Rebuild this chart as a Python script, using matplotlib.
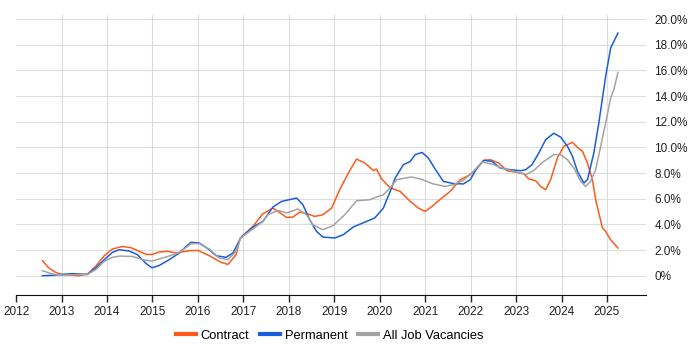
import matplotlib

matplotlib.use("Agg")
import matplotlib.pyplot as plt
from matplotlib.ticker import FuncFormatter

plt.rcParams["font.family"] = ["Liberation Sans", "DejaVu Sans"]

# decimal years / percent share
contract_t = [2012.58, 2012.72, 2012.87, 2013.00, 2013.38, 2013.57, 2013.75, 2013.94,
              2014.12, 2014.34, 2014.53, 2014.71, 2014.86, 2015.00, 2015.15, 2015.33,
              2015.52, 2015.81, 2016.00, 2016.25, 2016.51, 2016.66, 2016.84, 2016.93,
              2017.21, 2017.43, 2017.65, 2017.76, 2017.95, 2018.09, 2018.24, 2018.42,
              2018.57, 2018.75, 2018.94, 2019.12, 2019.31, 2019.49, 2019.67, 2019.86,
              2019.93, 2020.04, 2020.23, 2020.45, 2020.67, 2020.85, 2021.00, 2021.15,
              2021.33, 2021.55, 2021.77, 2021.99, 2022.14, 2022.29, 2022.43, 2022.62,
              2022.80, 2023.02, 2023.17, 2023.28, 2023.43, 2023.54, 2023.65, 2023.76,
              2023.91, 2024.05, 2024.24, 2024.35, 2024.46, 2024.57, 2024.68, 2024.75,
              2024.90, 2024.97, 2025.08, 2025.24]
contract_v = [1.17, 0.60, 0.26, 0.10, 0.00, 0.13, 0.73, 1.56,
              2.08, 2.28, 2.18, 1.90, 1.66, 1.66, 1.85, 1.90,
              1.77, 1.95, 1.97, 1.56, 1.04, 0.88, 1.64, 2.94,
              3.84, 4.83, 5.27, 5.01, 4.54, 4.57, 4.96, 4.81,
              4.62, 4.75, 5.27, 6.70, 8.00, 9.09, 8.78, 8.20,
              8.30, 7.54, 6.84, 6.57, 5.79, 5.27, 5.01, 5.40,
              5.95, 6.57, 7.48, 7.87, 8.39, 8.99, 9.04, 8.78,
              8.18, 8.05, 7.95, 7.54, 7.40, 6.96, 6.70, 7.48,
              9.20, 10.08, 10.39, 10.00, 9.69, 8.78, 7.48, 5.92,
              3.72, 3.45, 2.80, 2.16]

permanent_t = [2012.58, 2012.80, 2013.00, 2013.24, 2013.57, 2013.75, 2013.94, 2014.12,
               2014.27, 2014.49, 2014.67, 2014.86, 2014.99, 2015.15, 2015.37, 2015.59,
               2015.74, 2015.85, 2016.03, 2016.25, 2016.40, 2016.62, 2016.77, 2016.94,
               2017.21, 2017.43, 2017.65, 2017.84, 2018.17, 2018.31, 2018.46, 2018.61,
               2018.75, 2019.01, 2019.20, 2019.42, 2019.71, 2019.89, 2020.08, 2020.23,
               2020.34, 2020.52, 2020.67, 2020.78, 2020.93, 2021.07, 2021.22, 2021.40,
               2021.62, 2021.84, 2021.99, 2022.14, 2022.29, 2022.47, 2022.65, 2022.87,
               2023.10, 2023.21, 2023.35, 2023.50, 2023.65, 2023.83, 2023.98, 2024.13,
               2024.24, 2024.35, 2024.49, 2024.57, 2024.71, 2024.82, 2024.97, 2025.08,
               2025.24]
permanent_v = [0.00, 0.03, 0.10, 0.16, 0.10, 0.60, 1.25, 1.82,
               2.03, 1.92, 1.64, 0.94, 0.62, 0.80, 1.25, 1.77,
               2.28, 2.60, 2.55, 2.03, 1.56, 1.43, 1.77, 2.94,
               3.80, 4.23, 5.35, 5.79, 6.05, 5.53, 4.36, 3.45,
               3.01, 2.94, 3.20, 3.80, 4.23, 4.50, 5.27, 6.57,
               7.61, 8.65, 8.90, 9.43, 9.61, 9.17, 8.30, 7.35,
               7.18, 7.15, 7.48, 8.39, 8.99, 8.91, 8.39, 8.26,
               8.18, 8.26, 8.65, 9.56, 10.60, 11.10, 10.80, 10.08,
               9.30, 8.13, 7.22, 7.48, 9.56, 11.90, 15.53, 17.74,
               18.90]

all_t = [2012.58, 2012.80, 2013.00, 2013.57, 2013.75, 2013.94, 2014.12, 2014.27,
         2014.56, 2014.78, 2014.99, 2015.30, 2015.59, 2015.85, 2016.03, 2016.25,
         2016.47, 2016.66, 2016.84, 2016.94, 2017.43, 2017.54, 2017.76, 2017.95,
         2018.20, 2018.39, 2018.53, 2018.75, 2018.97, 2019.23, 2019.49, 2019.78,
         2019.93, 2020.08, 2020.23, 2020.37, 2020.56, 2020.70, 2020.89, 2021.18,
         2021.44, 2021.62, 2021.84, 2022.06, 2022.25, 2022.47, 2022.69, 2022.95,
         2023.21, 2023.39, 2023.58, 2023.83, 2023.98, 2024.13, 2024.27, 2024.42,
         2024.53, 2024.64, 2024.75, 2024.86, 2024.97, 2025.08, 2025.15, 2025.24]
all_v = [0.39, 0.13, 0.05, 0.10, 0.47, 1.12, 1.43, 1.53,
         1.50, 1.25, 1.14, 1.46, 1.80, 2.50, 2.50, 2.08,
         1.38, 1.25, 1.90, 2.94, 4.23, 4.75, 5.09, 4.89,
         5.20, 4.75, 3.97, 3.58, 3.90, 4.75, 5.84, 5.92,
         6.13, 6.31, 6.84, 7.48, 7.61, 7.69, 7.54, 7.15,
         6.96, 7.09, 7.43, 8.13, 8.86, 8.70, 8.39, 8.13,
         7.87, 8.20, 8.83, 9.43, 9.43, 9.04, 8.39, 7.35,
         6.96, 7.35, 8.26, 10.08, 11.90, 13.85, 14.50, 15.84]

years = list(range(2012, 2026))
pct_ticks = [0, 2, 4, 6, 8, 10, 12, 14, 16, 18, 20]

fig = plt.figure(figsize=(7, 3.5), dpi=100)
ax = fig.add_axes([0.023, 0.158, 0.9, 0.799])

ax.plot(contract_t, contract_v, color="#ff5a1a", lw=1.1, label="Contract")
ax.plot(permanent_t, permanent_v, color="#1a5ddb", lw=1.1, label="Permanent")
ax.plot(all_t, all_v, color="#a3a3a3", lw=1.1, label="All Job Vacancies")

ax.set_xlim(2012, 2025.86)
ax.set_ylim(-1.48, 20.31)
ax.set_xticks(years)
ax.set_yticks(pct_ticks)
ax.yaxis.set_major_formatter(
    FuncFormatter(lambda v, _: "0%" if v == 0 else f"{v:.1f}%"))
ax.yaxis.tick_right()
ax.tick_params(axis="y", length=0, pad=6, labelsize=8.5, colors="#222222")
ax.tick_params(axis="x", length=5, width=1, pad=3, labelsize=8.5, colors="#222222")
ax.grid(True, color="#dddddd", lw=0.8)
ax.xaxis.get_gridlines()[0].set_visible(False)  # no gridline on the 2012 edge
ax.set_axisbelow(True)
for side in ("left", "right", "top"):
    ax.spines[side].set_visible(False)
ax.spines["bottom"].set_color("#111111")

leg = fig.legend(loc="center", bbox_to_anchor=(0.471, 0.041), ncol=3, frameon=False,
                 fontsize=9.3, handlelength=1.55, handletextpad=0.4, columnspacing=0.8)
for line in leg.get_lines():
    line.set_linewidth(3)

fig.savefig("out.png", dpi=100)
plt.close(fig)
